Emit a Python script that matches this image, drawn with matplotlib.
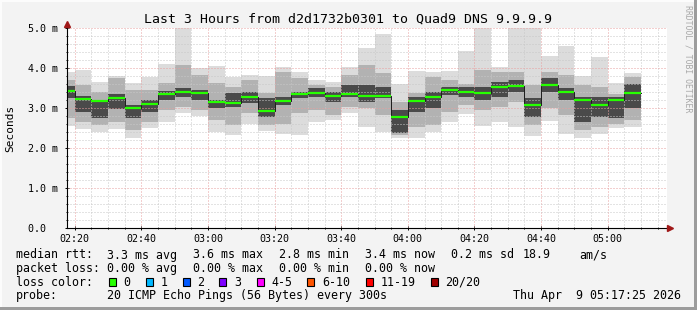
import matplotlib
matplotlib.use("Agg")
import matplotlib.pyplot as plt
from matplotlib.lines import Line2D
from matplotlib.patches import Rectangle

# ---------------- data ----------------
# bar start times in minutes after 02:00 (5-minute steps)
bar_start = [15, 20, 25, 30, 35, 40, 45, 50, 55, 60, 65, 70, 75, 80, 85, 90, 95,
             100, 105, 110, 115, 120, 125, 130, 135, 140, 145, 150, 155, 160, 165,
             170, 175, 180, 185]
median = [3.44, 3.23, 3.19, 3.26, 3.01, 3.11, 3.36, 3.41, 3.39, 3.17, 3.14, 3.29,
          2.94, 3.19, 3.36, 3.39, 3.32, 3.36, 3.31, 3.31, 2.79, 3.19, 3.28, 3.46,
          3.42, 3.39, 3.54, 3.56, 3.08, 3.58, 3.42, 3.21, 3.09, 3.21, 3.38]
rtt_min = [2.55, 2.48, 2.42, 2.48, 2.27, 2.50, 2.67, 2.88, 2.82, 2.40, 2.33, 2.62,
           2.43, 2.36, 2.33, 2.67, 2.71, 2.88, 2.54, 2.40, 2.25, 2.27, 2.40, 2.67,
           2.85, 2.56, 2.67, 2.54, 2.32, 2.69, 2.36, 2.25, 2.36, 2.50, 2.53]
rtt_lo1 = [2.75, 2.67, 2.58, 2.67, 2.46, 2.67, 2.96, 3.04, 2.96, 2.71, 2.58, 2.88,
           2.58, 2.62, 2.88, 2.96, 2.83, 3.04, 3.00, 2.83, 2.33, 2.54, 2.58, 2.90,
           3.08, 2.96, 3.04, 3.17, 2.58, 3.00, 2.83, 2.46, 2.54, 2.62, 2.71]
rtt_lo2 = [3.25, 2.90, 2.77, 2.98, 2.75, 2.92, 3.21, 3.29, 3.21, 3.00, 3.04, 3.13,
           2.79, 3.08, 3.25, 3.29, 3.17, 3.29, 3.17, 3.25, 2.38, 2.92, 3.00, 3.33,
           3.29, 3.21, 3.29, 3.42, 2.79, 3.42, 3.21, 2.67, 2.79, 2.75, 3.00]
rtt_hi2 = [3.55, 3.30, 3.22, 3.35, 3.08, 3.21, 3.42, 3.50, 3.46, 3.21, 3.38, 3.42,
           3.25, 3.29, 3.42, 3.50, 3.42, 3.58, 3.58, 3.54, 2.96, 3.29, 3.42, 3.54,
           3.54, 3.54, 3.67, 3.71, 3.25, 3.75, 3.50, 3.28, 3.29, 3.29, 3.62]
rtt_hi1 = [3.70, 3.58, 3.42, 3.75, 3.46, 3.46, 3.62, 4.08, 3.83, 3.62, 3.54, 3.71,
           3.38, 3.92, 3.75, 3.58, 3.54, 3.83, 4.08, 3.88, 3.17, 3.38, 3.79, 3.71,
           3.62, 3.96, 3.92, 3.92, 3.58, 3.92, 3.83, 3.58, 3.54, 3.35, 3.79]
rtt_max = [3.92, 3.96, 3.65, 3.81, 3.63, 3.79, 4.11, 5.00, 4.02, 4.06, 3.79, 3.83,
           3.81, 4.03, 3.92, 3.71, 3.65, 4.03, 4.52, 4.86, 3.61, 3.94, 3.92, 3.94,
           4.43, 5.00, 4.03, 5.00, 5.00, 4.31, 4.56, 3.81, 4.28, 3.64, 3.88]

x_ticks = [20, 40, 60, 80, 100, 120, 140, 160, 180]
x_tick_labels = ["02:20", "02:40", "03:00", "03:20", "03:40", "04:00", "04:20",
                 "04:40", "05:00"]
y_ticks = [0, 1, 2, 3, 4, 5]
y_tick_labels = ["0.0  ", "1.0 m", "2.0 m", "3.0 m", "4.0 m", "5.0 m"]

title = "Last 3 Hours from d2d1732b0301 to Quad9 DNS 9.9.9.9"
loss_labels = ["0", "1", "2", "3", "4-5", "6-10", "11-19", "20/20"]
loss_colors = ["#26ff00", "#00b8ff", "#0059ff", "#7e00ff", "#ff00ff", "#ff5500",
               "#ff0000", "#a00000"]
rtt_stats = ["3.3 ms avg", "3.6 ms max", "2.8 ms min", "3.4 ms now", "0.2 ms sd",
             "18.9", "am/s"]
loss_stats = ["0.00 % avg", "0.00 % max", "0.00 % min", "0.00 % now"]
probe_text = "20 ICMP Echo Pings (56 Bytes) every 300s"
stamp_text = "Thu Apr  9 05:17:25 2026"

# ---------------- figure ----------------
W, H = 697, 310
fig = plt.figure(figsize=(W / 100, H / 100), dpi=100, facecolor="#f3f3f3")
MONO = "DejaVu Sans Mono"


def fx(px):
    return px / W


def fy(py):
    return 1 - py / H


# 3D frame
fig.add_artist(Rectangle((0, fy(2)), 1, 2 / H, transform=fig.transFigure,
                         color="#fcfcfc", lw=0))
fig.add_artist(Rectangle((0, 0), 2 / W, 1, transform=fig.transFigure,
                         color="#fcfcfc", lw=0))
fig.add_artist(Rectangle((0, 0), 1, 3 / H, transform=fig.transFigure,
                         color="#9c9c9c", lw=0))
fig.add_artist(Rectangle((1 - 3 / W, 0), 3 / W, 1, transform=fig.transFigure,
                         color="#9c9c9c", lw=0))

ax_l, ax_r, ax_t, ax_b = 67, 667, 28.3, 228.3
ax = fig.add_axes([fx(ax_l), fy(ax_b), (ax_r - ax_l) / W, (ax_b - ax_t) / H])
ax.set_facecolor("white")
ax.set_xlim(17.69, 197.79)
ax.set_ylim(0, 5)
for s in ax.spines.values():
    s.set_visible(False)

# smoke
widths = [5] * len(bar_start)
ax.bar(bar_start, [a - b for a, b in zip(rtt_max, rtt_min)], bottom=rtt_min,
       width=widths, align="edge", color="#dcdcdc", lw=0, zorder=2)
ax.bar(bar_start, [a - b for a, b in zip(rtt_hi1, rtt_lo1)], bottom=rtt_lo1,
       width=widths, align="edge", color="#b2b2b2", lw=0, zorder=2)
ax.bar(bar_start, [a - b for a, b in zip(rtt_hi2, rtt_lo2)], bottom=rtt_lo2,
       width=widths, align="edge", color="#4a4a4a", lw=0, zorder=2)

# grid (on top of smoke)
for m in range(20, 198, 5):
    major = (m % 20 == 0)
    ax.axvline(m, color="#e8a0a0" if major else "#c8c8c8", lw=0.72,
               ls=(0, (1, 2)), zorder=3)
for i in range(1, 26):
    v = i * 0.2
    major = (i % 5 == 0)
    ax.axhline(v, color="#e8a0a0" if major else "#c8c8c8", lw=0.72,
               ls=(0, (1, 2)), zorder=3)

# median line
edges = bar_start + [bar_start[-1] + 5]
ax.step(edges, median + [median[-1]], where="post", color="#202020", lw=0.72,
        zorder=4)
ax.hlines(median, bar_start, [b + 5 for b in bar_start], color=loss_colors[0],
          lw=1.6, zorder=5)

# ticks
ax.set_xticks(x_ticks)
ax.set_xticklabels(x_tick_labels, fontfamily=MONO, fontsize=7.2)
ax.set_xticks(range(20, 198, 5), minor=True)
ax.set_yticks(y_ticks)
ax.set_yticklabels(y_tick_labels, fontfamily=MONO, fontsize=7.2)
ax.set_yticks([i * 0.2 for i in range(26)], minor=True)
ax.tick_params(axis="both", which="major", length=2.5, width=0.7,
               direction="inout", colors="black")
ax.tick_params(axis="both", which="minor", length=1.5, width=0.7,
               direction="inout", colors="black")
ax.tick_params(axis="x", pad=3)
ax.tick_params(axis="y", pad=5)

# axis lines with arrows
fig.add_artist(Line2D([fx(67), fx(670)], [fy(228.3), fy(228.3)], color="black",
                      lw=0.8, transform=fig.transFigure))
fig.add_artist(Line2D([fx(67), fx(67)], [fy(228.3), fy(24)], color="black",
                      lw=0.8, transform=fig.transFigure))
fig.add_artist(Line2D([fx(670)], [fy(228.3)], marker=">", color="#a01818",
                      markersize=4.5, lw=0, transform=fig.transFigure))
fig.add_artist(Line2D([fx(67)], [fy(24)], marker="^", color="#a01818",
                      markersize=4.5, lw=0, transform=fig.transFigure))

# texts
fig.text(fx(348), fy(19), title, fontfamily=MONO, fontsize=9.5, ha="center",
         va="center", color="black")
fig.text(fx(10), fy(128), "Seconds", fontfamily=MONO, fontsize=8, rotation=90,
         ha="center", va="center")
fig.text(fx(688), fy(59), "RRDTOOL / TOBI OETIKER", fontfamily=MONO,
         fontsize=5.9, rotation=270, ha="center", va="center", color="#a8a8a8")

LF = 8.35
rows_y = [255, 268.3, 282.3, 295.7]
fig.text(fx(16), fy(rows_y[0]), "median rtt:", fontfamily=MONO, fontsize=LF,
         va="center")
for xpos, s in zip([107, 193, 279, 365, 451, 523, 579], rtt_stats):
    fig.text(fx(xpos), fy(rows_y[0]), s, fontfamily=MONO, fontsize=LF,
             va="center")
fig.text(fx(16), fy(rows_y[1]), "packet loss:", fontfamily=MONO, fontsize=LF,
         va="center")
for xpos, s in zip([107, 193, 279, 365], loss_stats):
    fig.text(fx(xpos), fy(rows_y[1]), s, fontfamily=MONO, fontsize=LF,
             va="center")
fig.text(fx(16), fy(rows_y[2]), "loss color:", fontfamily=MONO, fontsize=LF,
         va="center")
box_x = [108.5, 145.7, 182.7, 219.3, 256.7, 307.3, 365.7, 431]
for bx, lab, col in zip(box_x, loss_labels, loss_colors):
    fig.add_artist(Rectangle((fx(bx), fy(rows_y[2] + 4)), 7 / W, 8 / H,
                             transform=fig.transFigure, facecolor=col,
                             edgecolor="black", lw=0.8))
    fig.text(fx(bx + 14.5), fy(rows_y[2]), lab, fontfamily=MONO, fontsize=LF,
             va="center")
fig.text(fx(16), fy(rows_y[3]), "probe:", fontfamily=MONO, fontsize=LF,
         va="center")
fig.text(fx(107), fy(rows_y[3]), probe_text, fontfamily=MONO, fontsize=LF,
         va="center")
fig.text(fx(513), fy(rows_y[3]), stamp_text, fontfamily=MONO, fontsize=LF,
         va="center")

fig.savefig("out.png", dpi=100, facecolor=fig.get_facecolor())
